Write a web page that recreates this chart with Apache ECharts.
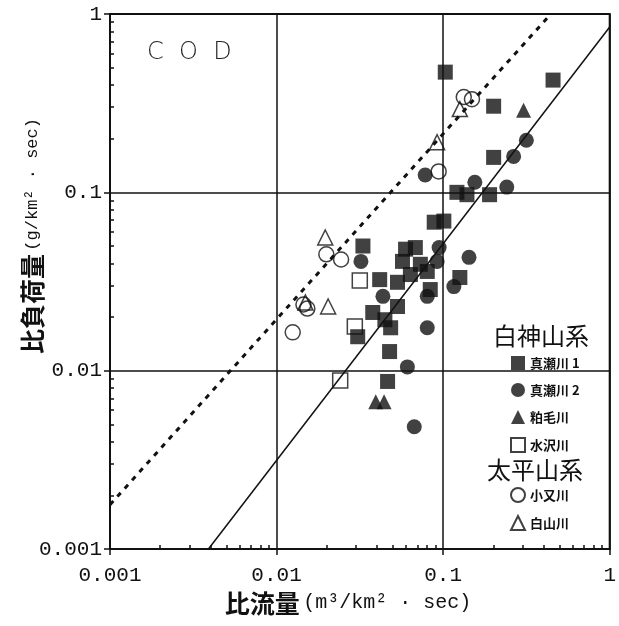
<!DOCTYPE html>
<html>
<head>
<meta charset="utf-8">
<title>COD</title>
<script src="https://cdn.jsdelivr.net/npm/echarts@6/dist/echarts.min.js"></script>
<style>
html, body { margin: 0; padding: 0; background: #fff; }
#chart { width: 619px; height: 626px; }
</style>
</head>
<body>
<div id="chart"></div>
<script>
// [比流量 m3/km2·sec, 比負荷量 g/km2·sec]
const maze1 = [
  [0.103, 0.472], [0.457, 0.426], [0.201, 0.304], [0.201, 0.157],
  [0.121, 0.100], [0.139, 0.097], [0.190, 0.097], [0.0884, 0.068],
  [0.101, 0.069], [0.0595, 0.048], [0.0681, 0.049], [0.033, 0.050],
  [0.0416, 0.0324], [0.0532, 0.0313], [0.0636, 0.0346], [0.0803, 0.036],
  [0.0837, 0.0285], [0.126, 0.0333], [0.0378, 0.0212], [0.0532, 0.0229],
  [0.0447, 0.0193], [0.0484, 0.0174], [0.0307, 0.0155], [0.0477, 0.0128],
  [0.0464, 0.0087], [0.057, 0.041], [0.073, 0.0395]
]
const maze2 = [
  [0.316, 0.196], [0.265, 0.159], [0.155, 0.114], [0.241, 0.107],
  [0.078, 0.125], [0.0321, 0.041], [0.0435, 0.0261], [0.0946, 0.049],
  [0.092, 0.041], [0.116, 0.0296], [0.143, 0.0432], [0.0803, 0.0174],
  [0.061, 0.0105], [0.0671, 0.00485], [0.0803, 0.0261]
]
const kasuge = [[0.0394, 0.0067], [0.0442, 0.0067], [0.304, 0.289]]
const mizusawa = [[0.0241, 0.0088], [0.0316, 0.032], [0.0295, 0.0177]]
const komata = [
  [0.0125, 0.0164], [0.0145, 0.0235], [0.0153, 0.0223], [0.0199, 0.0449],
  [0.0244, 0.042], [0.094, 0.131], [0.133, 0.342], [0.149, 0.333]
]
const shirayama = [
  [0.0149, 0.0241], [0.0204, 0.0229], [0.0196, 0.0558], [0.092, 0.191],
  [0.126, 0.293]
]
const solidLine = [[0.0039, 0.001], [1, 0.845]]
const dashedLine = [[0.001, 0.00177], [0.443, 1]]
const tickLabels = ['0.001', '0.01', '0.1', '1']
const decades = [0.001, 0.01, 0.1]
const minorSteps = [2, 3, 4, 5, 6, 7, 8, 9]
const groupNames = ['白神山系', '太平山系']

const chart = echarts.init(document.getElementById('chart'))
const monoFont = 'Liberation Mono'
const jpFont = 'Noto Sans CJK JP'
const openStyle = { color: 'rgba(255,255,255,0)', borderColor: '#111', borderWidth: 1.5 }
const fillStyle = { color: '#111' }
// tick positions 2..9 inside each decade
const minorValues = decades.flatMap(d => minorSteps.map(k => +(k * d).toPrecision(3)))

function mainAxis (pos) {
  return {
    type: 'log',
    position: pos,
    min: 0.001,
    max: 1,
    axisLine: { lineStyle: { color: '#111', width: 2 } },
    axisTick: { show: true, length: 6, lineStyle: { color: '#111', width: 1.5 } },
    axisLabel: {
      color: '#111',
      fontFamily: monoFont,
      fontSize: 21,
      margin: pos === 'bottom' ? 16 : 8,
      formatter: (v, i) => tickLabels[i]
    },
    splitLine: { show: true, lineStyle: { color: '#111', width: 1.5 } }
  }
}
function minorAxis (pos) {
  return {
    type: 'log',
    position: pos,
    min: 0.001,
    max: 1,
    axisLine: { show: false },
    axisTick: {
      show: true,
      inside: true,
      length: 4,
      customValues: minorValues,
      lineStyle: { color: '#111', width: 1.5 }
    },
    axisLabel: { show: false },
    splitLine: { show: false }
  }
}

function scatter (name, data, symbol, style) {
  return {
    name: name,
    type: 'scatter',
    data: data,
    symbol: symbol,
    symbolSize: 15,
    itemStyle: style,
    z: 3
  }
}

const legendText = { fontFamily: jpFont, fontWeight: 'bold', fontSize: 13, color: '#111' }

const option = {
  animation: false,
  grid: {
    left: 110,
    right: 5,
    top: 14,
    bottom: 77,
    show: true,
    borderColor: '#111',
    borderWidth: 2
  },
  xAxis: [mainAxis('bottom'), minorAxis('bottom')],
  yAxis: [mainAxis('left'), minorAxis('left')],
  legend: [
    {
      data: ['真瀬川 1', '真瀬川 2', '粕毛川', '水沢川'],
      orient: 'vertical',
      left: 505,
      top: 351,
      itemWidth: 14,
      itemHeight: 14,
      itemGap: 13,
      textStyle: legendText
    },
    {
      data: ['小又川', '白山川'],
      orient: 'vertical',
      left: 505,
      top: 482,
      itemWidth: 14,
      itemHeight: 14,
      itemGap: 12,
      textStyle: legendText
    }
  ],
  graphic: [
    {
      type: 'text',
      left: 147,
      top: 41,
      style: { text: 'C  O  D', font: '300 24px "DejaVu Sans"', fill: '#222' }
    },
    {
      type: 'text',
      left: 493,
      top: 324,
      style: { text: groupNames[0], font: '24px "Noto Sans CJK JP"', fill: '#111' }
    },
    {
      type: 'text',
      left: 487,
      top: 458,
      style: { text: groupNames[1], font: '24px "Noto Sans CJK JP"', fill: '#111' }
    },
    {
      type: 'text',
      x: 32,
      y: 236,
      rotation: Math.PI / 2,
      style: {
        text: '{a|比負荷量} {b|(g/km² · sec)}',
        align: 'center',
        verticalAlign: 'middle',
        rich: {
          a: { fontFamily: jpFont, fontWeight: 'bold', fontSize: 25, fill: '#111' },
          b: { fontFamily: monoFont, fontSize: 17, fill: '#111' }
        }
      }
    },
    {
      type: 'text',
      x: 348,
      y: 603,
      style: {
        text: '{a|比流量} {b|(m³/km² · sec)}',
        align: 'center',
        verticalAlign: 'middle',
        rich: {
          a: { fontFamily: jpFont, fontWeight: 'bold', fontSize: 25, fill: '#111' },
          b: { fontFamily: monoFont, fontSize: 20, fill: '#111' }
        }
      }
    }
  ],
  series: [
    scatter('真瀬川 1', maze1, 'rect', fillStyle),
    scatter('真瀬川 2', maze2, 'circle', fillStyle),
    scatter('粕毛川', kasuge, 'triangle', fillStyle),
    scatter('水沢川', mizusawa, 'rect', openStyle),
    scatter('小又川', komata, 'circle', openStyle),
    scatter('白山川', shirayama, 'triangle', openStyle),
    {
      type: 'line',
      data: solidLine,
      symbol: 'none',
      silent: true,
      lineStyle: { color: '#111', width: 1.5 },
      z: 2
    },
    {
      type: 'line',
      data: dashedLine,
      symbol: 'none',
      silent: true,
      lineStyle: { color: '#111', width: 3, type: [5, 6] },
      z: 2
    }
  ]
}
chart.setOption(option)
</script>
</body>
</html>
